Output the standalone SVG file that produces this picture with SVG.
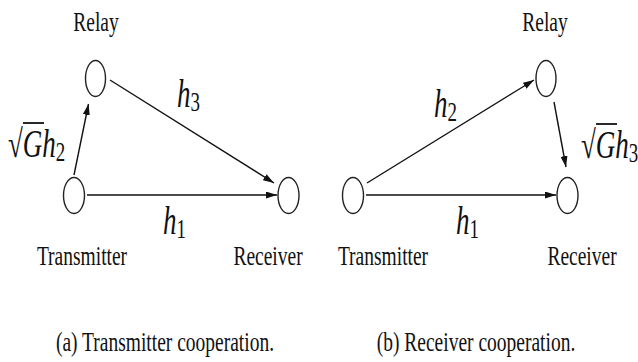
<svg xmlns="http://www.w3.org/2000/svg" width="638" height="362" viewBox="0 0 638 362">
<style>
.node{fill:#fff;stroke:#222;stroke-width:1.4}
.edge{stroke:#111;stroke-width:1.4;fill:none;marker-end:url(#ah)}
.lbl{font-size:19.5px;fill:#111;text-anchor:middle}
.math{font-size:27px;fill:#111}
.it{font-style:italic}
.bar{stroke:#111;stroke-width:1.8}
</style>
<defs>
<marker id="ah" viewBox="0 0 11 7" refX="11" refY="3.5" markerWidth="11" markerHeight="7" markerUnits="userSpaceOnUse" orient="auto">
<path d="M0,0 L11,3.5 L0,7 Z" fill="#111"/>
</marker>
</defs>
<rect width="638" height="362" fill="#fff"/>
<g id="connectors">
<line class="edge" x1="74" y1="175" x2="88.5" y2="104"/>
<line class="edge" x1="110" y1="80" x2="274" y2="183"/>
<line class="edge" x1="87" y1="195" x2="277" y2="195"/>
<line class="edge" x1="367" y1="183" x2="534" y2="80"/>
<line class="edge" x1="554" y1="102" x2="566" y2="167"/>
<line class="edge" x1="366" y1="195" x2="556" y2="195"/>
</g>
<g font-family="Liberation Serif, 'Times New Roman', serif">
<g id="relay-a">
<ellipse class="node" cx="95.5" cy="78.5" rx="10" ry="18"/>
<text class="lbl" transform="translate(96,31) scale(1,1.45)">Relay</text>
</g>
<g id="transmitter-a">
<ellipse class="node" cx="74" cy="195.5" rx="10.5" ry="18"/>
<text class="lbl" transform="translate(82,265) scale(1,1.45)">Transmitter</text>
</g>
<g id="receiver-a">
<ellipse class="node" cx="288.5" cy="195.5" rx="10.5" ry="18"/>
<text class="lbl" transform="translate(268,265) scale(1,1.45)">Receiver</text>
</g>
<g id="relay-b">
<ellipse class="node" cx="546" cy="78.5" rx="10" ry="18"/>
<text class="lbl" transform="translate(545,31) scale(1,1.45)">Relay</text>
</g>
<g id="transmitter-b">
<ellipse class="node" cx="353" cy="195.5" rx="10.5" ry="18"/>
<text class="lbl" transform="translate(383,265) scale(1,1.45)">Transmitter</text>
</g>
<g id="receiver-b">
<ellipse class="node" cx="567.5" cy="195.5" rx="10.5" ry="18"/>
<text class="lbl" transform="translate(582,265) scale(1,1.45)">Receiver</text>
</g>
<g id="labels">
<text class="math" transform="translate(8,157) scale(1,1.45)">√<tspan class="it">G</tspan><tspan class="it">h</tspan><tspan font-size="19px" dy="3">2</tspan></text>
<line class="bar" x1="23" y1="123" x2="44" y2="123"/>
<text class="math" transform="translate(177,107) scale(1,1.45)"><tspan class="it">h</tspan><tspan font-size="19px" dy="3">3</tspan></text>
<text class="math" transform="translate(163,234) scale(1,1.45)"><tspan class="it">h</tspan><tspan font-size="19px" dy="3">1</tspan></text>
<text class="math" transform="translate(434,117) scale(1,1.45)"><tspan class="it">h</tspan><tspan font-size="19px" dy="3">2</tspan></text>
<text class="math" transform="translate(456,234) scale(1,1.45)"><tspan class="it">h</tspan><tspan font-size="19px" dy="3">1</tspan></text>
<text class="math" transform="translate(581,158) scale(1,1.45)">√<tspan class="it">G</tspan><tspan class="it">h</tspan><tspan font-size="19px" dy="3">3</tspan></text>
<line class="bar" x1="596" y1="124" x2="617" y2="124"/>
<text class="lbl" transform="translate(165,351) scale(1,1.45)">(a) Transmitter cooperation.</text>
<text class="lbl" transform="translate(476,351) scale(1,1.45)">(b) Receiver cooperation.</text>
</g>
</g>
</svg>
